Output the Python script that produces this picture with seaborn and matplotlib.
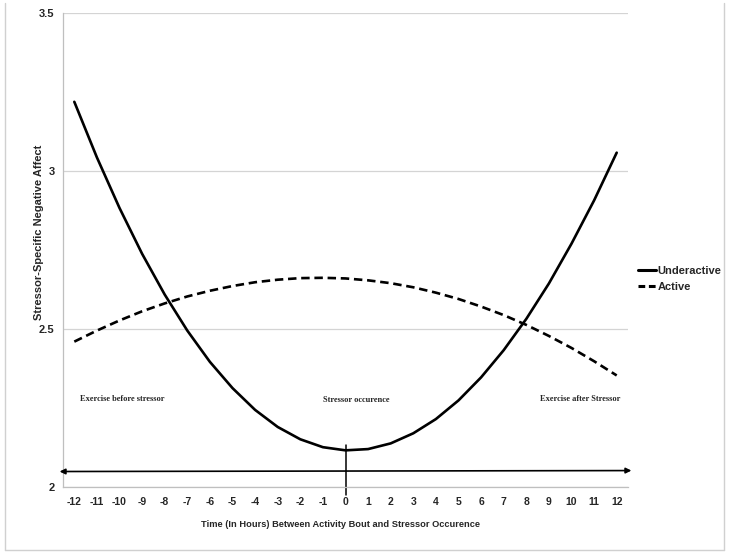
import pandas as pd
import seaborn as sns
import matplotlib.pyplot as plt
from matplotlib.lines import Line2D

# hours relative to the stressor
hours = [-12, -11, -10, -9, -8, -7, -6, -5, -4, -3, -2, -1, 0,
         1, 2, 3, 4, 5, 6, 7, 8, 9, 10, 11, 12]

# values
underactive = [3.219, 3.043, 2.883, 2.738, 2.609, 2.495, 2.396, 2.313, 2.244,
               2.190, 2.151, 2.126, 2.116, 2.120, 2.138, 2.170, 2.215, 2.274,
               2.347, 2.433, 2.532, 2.644, 2.770, 2.907, 3.058]
active = [2.460, 2.495, 2.527, 2.556, 2.581, 2.603, 2.621, 2.636, 2.648,
          2.656, 2.661, 2.662, 2.660, 2.654, 2.645, 2.632, 2.615, 2.595,
          2.571, 2.544, 2.513, 2.478, 2.440, 2.398, 2.353]

groups = ["Underactive", "Active"]
y_ticks = [2, 2.5, 3, 3.5]
y_tick_labels = ["2", "2.5", "3", "3.5"]
annotations = ["Exercise before stressor", "Stressor occurence", "Exercise after Stressor"]

df = pd.DataFrame({
    "hour": hours * 2,
    "affect": underactive + active,
    "group": ["Underactive"] * len(hours) + ["Active"] * len(hours),
})

sns.set_style("white")
plt.rcParams['font.family'] = ['Liberation Sans', 'DejaVu Sans']

fig = plt.figure(figsize=(7.29, 5.55), dpi=100)
ax = fig.add_axes([63 / 729, 68 / 555, 565 / 729, 474 / 555])

sns.lineplot(data=df, x="hour", y="affect", hue="group", style="group",
             hue_order=groups, style_order=groups,
             palette={"Underactive": "black", "Active": "black"},
             dashes={"Underactive": "", "Active": (3.2, 1.8)},
             linewidth=1.9, ax=ax, legend=False)
for ln in ax.lines:
    ln.set_solid_joinstyle("round")
    ln.set_dash_joinstyle("round")

ax.set_xlim(-12.5, 12.5)
ax.set_ylim(2, 3.5)
ax.set_xticks(hours)
ax.set_xticklabels([str(h) for h in hours], fontsize=7.5, fontweight="bold")
ax.set_xticks([h + 0.5 for h in hours[:-1]] + [-12.5, 12.5], minor=True)
ax.set_yticks(y_ticks)
ax.set_yticklabels(y_tick_labels, fontsize=8, fontweight="bold")
ax.tick_params(axis="x", which="major", length=0, pad=7)
ax.tick_params(axis="x", which="minor", length=3, color="#bfbfbf", width=0.8)
ax.tick_params(axis="y", length=4, color="#bfbfbf", width=0.8, pad=2)
ax.yaxis.grid(True, color="#d4d4d4", linewidth=0.9)
ax.xaxis.grid(False)
for s in ["top", "right"]:
    ax.spines[s].set_visible(False)
for s in ["left", "bottom"]:
    ax.spines[s].set_color("#bfbfbf")
    ax.spines[s].set_linewidth(0.9)

ax.set_xlabel("Time (In Hours) Between Activity Bout and Stressor Occurence",
              fontsize=6.7, fontweight="bold")
ax.xaxis.set_label_coords(0.492, -0.07)
ax.set_ylabel("Stressor-Specific Negative Affect", fontsize=8, fontweight="bold")
ax.yaxis.set_label_coords(-0.034, 0.538)

# annotations
ax.text(-9.9, 2.28, annotations[0], ha="center", va="center", fontsize=6,
        fontweight="bold", family="Liberation Serif")
ax.text(0.47, 2.275, annotations[1], ha="center", va="center", fontsize=6,
        fontweight="bold", family="Liberation Serif")
ax.text(10.4, 2.277, annotations[2], ha="center", va="center", fontsize=6,
        fontweight="bold", family="Liberation Serif")

# time arrow and stressor marker
ax.annotate("", xy=(12.65, 2.052), xytext=(-12.65, 2.049),
            arrowprops=dict(arrowstyle="<|-|>", color="black", lw=1.2,
                            mutation_scale=8, shrinkA=0, shrinkB=0),
            annotation_clip=False)
ax.plot([0, 0], [1.975, 2.133], color="black", lw=1.1, clip_on=False)

handles = [Line2D([], [], color="black", lw=2.2),
           Line2D([], [], color="black", lw=2.2, dashes=(2.2, 1.2))]
fig.legend(handles, groups, loc="upper left", bbox_to_anchor=(628 / 729, 1 - 256 / 555),
           frameon=False, handlelength=1.6, handletextpad=0.15, labelspacing=0.55,
           prop={"weight": "bold", "size": 8})

# light frame around the figure
for xs, ys in [([5, 5], [3, 550]), ([724, 724], [3, 550]), ([5, 724], [550, 550])]:
    fig.add_artist(Line2D([x / 729 for x in xs], [1 - y / 555 for y in ys],
                          color="#d0d0d0", lw=1.0))

fig.savefig("out.png", dpi=100)
